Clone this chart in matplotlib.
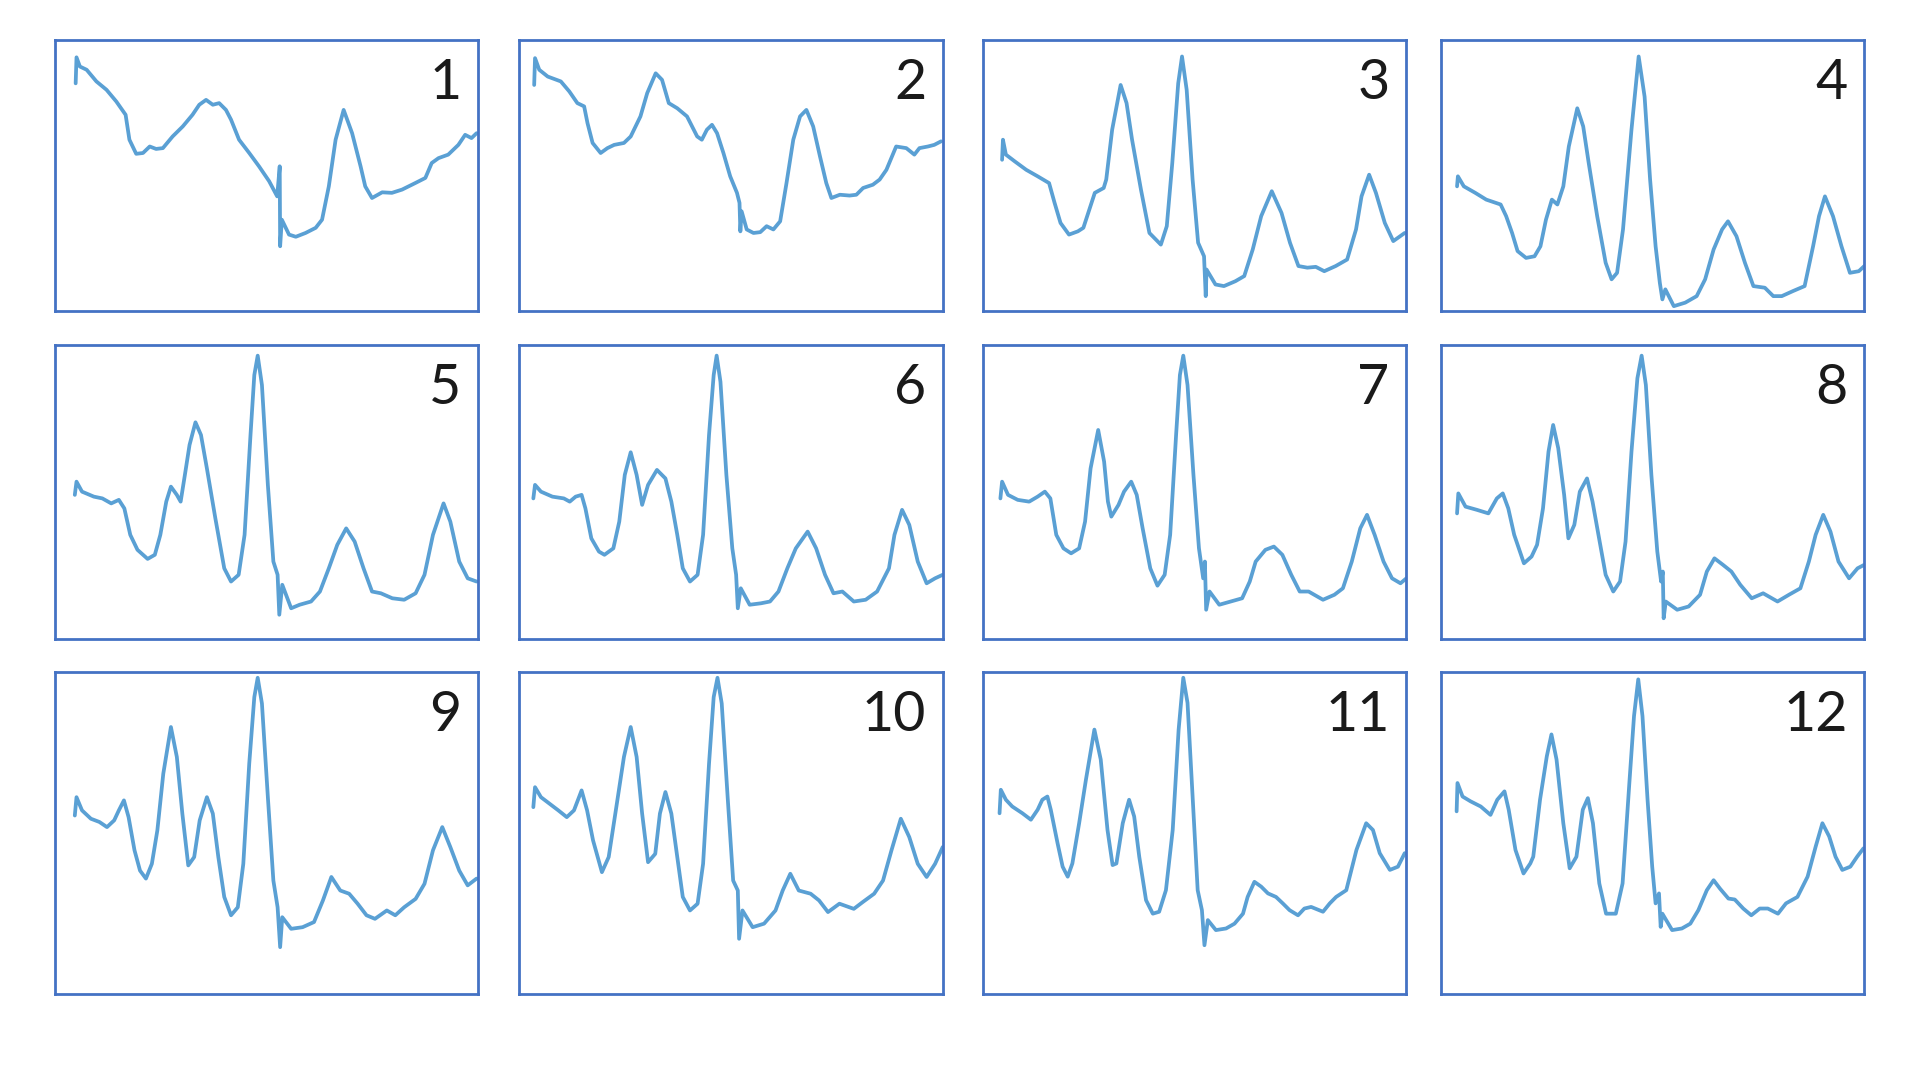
import matplotlib.pyplot as plt

# spectra (x: channel 0-100, y: intensity 0-100)
x1 = [4.9, 5.1, 5.9, 7.5, 9.8, 12.2, 14.5, 16.7, 17.6, 19.2, 20.8, 22.4, 23.9, 25.5, 27.8, 30.2, 32.5, 34.1, 35.7, 37.3,
      38.8, 40.4, 41.6, 43.5, 45.9, 48.2, 50.6, 52.5, 53.1, 53.2, 53.6, 55.3, 56.9, 59.2, 61.6, 63.1, 64.7, 66.3, 68.2,
      70.2, 72.2, 73.3, 74.9, 77.3, 79.6, 82.0, 85.1, 87.5, 89.0, 90.6, 92.9, 95.3, 96.9, 98.4, 99.6]
y1 = [84.0, 93.6, 90.2, 89.0, 84.7, 81.6, 77.3, 72.4, 63.2, 58.0, 58.3, 60.7, 59.8, 60.1, 64.4, 68.1, 72.4, 76.1, 77.9, 76.1,
      76.7, 74.2, 70.6, 63.2, 58.3, 53.4, 47.9, 42.3, 53.4, 23.9, 33.7, 28.2, 27.4, 28.8, 30.7, 33.7, 46.0, 63.2, 74.2,
      65.6, 53.4, 46.0, 41.7, 43.8, 43.6, 44.8, 47.2, 49.1, 54.6, 56.4, 57.7, 61.3, 65.0, 63.8, 65.6]

x2 = [3.5, 3.7, 4.7, 6.7, 9.8, 11.8, 13.7, 15.3, 16.1, 17.3, 19.2, 20.8, 22.4, 24.7, 26.3, 28.6, 30.2, 32.2, 33.7, 35.3,
      37.3, 39.6, 42.0, 43.1, 44.3, 45.5, 46.7, 48.2, 49.8, 51.4, 52.0, 52.2, 52.5, 53.7, 55.3, 56.9, 58.4, 60.0, 61.6,
      63.1, 64.7, 66.3, 67.8, 69.4, 71.0, 72.5, 73.7, 75.7, 78.0, 79.6, 81.2, 83.5, 85.1, 86.7, 89.0, 91.4, 93.3, 94.5,
      96.5, 98.0, 99.6]
y2 = [83.4, 93.3, 89.0, 86.5, 84.7, 81.0, 76.7, 75.5, 69.3, 62.0, 58.3, 60.1, 61.3, 62.0, 64.4, 71.8, 80.4, 87.7, 85.3, 76.7,
      74.8, 71.8, 64.4, 63.2, 66.9, 68.7, 65.6, 58.3, 49.7, 43.6, 39.9, 29.4, 36.8, 30.1, 28.8, 29.1, 31.3, 30.1, 33.1,
      47.2, 63.2, 71.8, 74.2, 68.1, 57.1, 47.2, 41.7, 42.9, 42.6, 42.9, 45.4, 46.6, 48.5, 52.1, 60.7, 60.1, 57.7, 60.1,
      60.7, 61.3, 62.6]

x3 = [4.5, 4.7, 5.4, 7.5, 10.2, 12.9, 15.6, 16.9, 18.3, 20.3, 22.4, 23.7, 25.1, 26.4, 28.5, 29.1, 30.5, 32.5, 33.9, 35.2,
      37.3, 39.3, 42.0, 43.4, 44.7, 46.1, 47.0, 48.1, 49.5, 50.8, 52.2, 52.6, 52.8, 54.9, 56.9, 59.6, 61.7, 63.7, 65.7,
      68.2, 70.5, 72.5, 74.5, 76.6, 78.6, 80.6, 83.3, 86.0, 88.1, 89.4, 91.2, 92.8, 94.9, 96.9, 99.6]
y3 = [55.8, 63.2, 57.7, 55.2, 52.1, 49.7, 47.2, 39.9, 32.5, 28.2, 29.4, 30.7, 37.4, 43.6, 45.4, 48.5, 66.9, 83.4, 76.7, 63.2,
      44.8, 28.8, 24.5, 31.3, 54.6, 84.0, 93.9, 81.6, 48.5, 25.2, 20.2, 5.5, 15.3, 9.8, 9.2, 11.0, 12.9, 22.7, 35.0,
      44.2, 36.2, 25.2, 16.6, 16.0, 16.3, 14.7, 16.6, 19.0, 30.1, 42.3, 50.3, 43.6, 32.5, 25.8, 28.8]

x4 = [3.8, 4.0, 5.4, 8.1, 10.7, 14.1, 15.4, 16.8, 18.1, 20.1, 22.1, 23.5, 24.8, 26.2, 27.5, 28.9, 30.2, 32.2, 33.6, 34.9,
      36.9, 38.9, 40.3, 41.6, 43.0, 45.0, 46.7, 48.1, 49.4, 50.7, 51.7, 52.3, 53.0, 55.0, 57.7, 60.4, 62.4, 64.4, 66.4,
      67.8, 69.8, 71.8, 73.8, 76.5, 78.5, 80.5, 83.2, 85.9, 87.9, 89.3, 90.7, 92.6, 94.6, 96.6, 98.7, 100.0]
y4 = [46.0, 49.7, 46.0, 43.6, 41.1, 39.3, 35.0, 28.8, 22.1, 19.6, 20.2, 23.9, 33.7, 41.1, 39.3, 46.0, 60.7, 74.8, 68.1, 54.6,
      35.0, 17.8, 11.7, 14.1, 30.1, 66.9, 93.9, 79.1, 48.5, 23.9, 10.4, 4.3, 8.0, 1.8, 3.1, 5.5, 11.7, 22.7, 30.1,
      33.1, 27.6, 17.8, 9.2, 8.6, 5.5, 5.5, 7.4, 9.2, 23.9, 35.0, 42.3, 35.0, 23.9, 14.1, 14.7, 16.6]

x5 = [4.7, 5.1, 6.4, 9.2, 11.2, 13.3, 15.1, 16.4, 17.8, 19.5, 21.9, 23.6, 24.9, 26.3, 27.4, 28.8, 29.7, 30.7, 31.8, 33.2,
      34.5, 35.9, 37.9, 40.0, 41.6, 43.4, 44.8, 46.2, 47.1, 47.9, 48.9, 50.3, 51.6, 52.6, 53.0, 53.7, 55.8, 57.8, 60.5,
      62.6, 64.7, 66.7, 68.8, 70.8, 72.9, 74.9, 77.0, 79.7, 82.5, 85.2, 87.3, 89.3, 91.8, 93.4, 95.5, 97.5, 99.6]
y5 = [49.0, 53.5, 50.1, 48.4, 47.8, 46.1, 47.3, 44.4, 35.4, 30.3, 27.2, 28.6, 35.4, 46.7, 51.8, 49.0, 46.7, 55.8, 66.0, 73.7,
      69.4, 58.0, 41.0, 24.0, 19.5, 21.8, 35.4, 69.4, 89.8, 96.4, 86.4, 52.4, 26.3, 21.8, 8.2, 18.4, 10.4, 11.6, 12.7,
      16.1, 24.0, 32.0, 37.6, 33.1, 24.0, 16.1, 15.5, 13.8, 13.3, 15.5, 21.8, 35.4, 46.1, 39.9, 26.3, 20.6, 19.5]

x6 = [3.3, 3.7, 5.1, 7.8, 10.5, 11.9, 13.3, 14.7, 15.6, 17.0, 18.8, 20.1, 22.2, 23.6, 24.9, 26.3, 27.7, 29.0, 30.4, 32.5,
      34.5, 35.9, 37.3, 38.6, 40.3, 42.1, 43.4, 44.8, 45.9, 46.6, 47.5, 48.9, 50.3, 51.2, 51.6, 52.3, 54.4, 57.1, 59.2,
      61.2, 63.3, 65.3, 68.1, 70.1, 72.2, 74.2, 76.3, 79.0, 81.8, 84.5, 87.3, 88.6, 90.4, 92.1, 94.1, 96.2, 98.2, 100.0]
y6 = [47.8, 52.4, 50.1, 48.4, 47.8, 46.7, 48.4, 49.0, 44.4, 34.2, 29.7, 28.6, 30.8, 39.9, 55.8, 63.5, 55.8, 45.6, 52.4, 57.5,
      54.6, 46.7, 35.4, 24.0, 19.5, 21.8, 35.4, 69.4, 89.8, 96.4, 87.5, 55.8, 30.8, 21.8, 10.4, 17.2, 11.6, 12.1, 12.7,
      16.1, 24.0, 30.8, 36.5, 30.8, 21.8, 15.5, 16.1, 12.7, 13.3, 16.1, 24.0, 35.4, 43.9, 38.8, 26.3, 18.9, 20.6, 21.8]

x7 = [4.1, 4.5, 5.9, 8.2, 10.9, 12.9, 14.6, 15.9, 17.3, 19.0, 20.8, 22.7, 24.1, 25.4, 27.2, 28.6, 29.5, 30.3, 32.0, 33.3,
      35.0, 36.3, 37.7, 39.5, 41.2, 42.9, 44.2, 45.6, 46.5, 47.3, 48.3, 49.7, 51.0, 52.0, 52.4, 52.7, 53.5, 55.8, 58.5,
      61.2, 63.0, 64.4, 66.7, 68.7, 70.7, 72.8, 74.8, 76.9, 80.3, 83.0, 85.0, 87.1, 89.1, 90.7, 92.5, 94.6, 96.6, 98.6,
      100.0]
y7 = [47.8, 53.5, 49.0, 47.3, 46.7, 48.4, 50.1, 47.8, 35.4, 30.8, 29.1, 30.8, 39.9, 58.0, 71.1, 60.3, 46.7, 41.6, 45.6, 50.1,
      53.5, 49.0, 37.6, 24.0, 18.1, 21.8, 35.4, 69.4, 89.8, 96.4, 86.4, 55.8, 30.8, 20.6, 26.3, 9.9, 16.1, 11.6, 12.7,
      13.8, 19.5, 26.3, 30.3, 31.4, 28.6, 21.8, 16.1, 16.1, 13.3, 15.0, 17.2, 26.3, 37.6, 42.2, 35.4, 26.3, 20.6, 18.9,
      20.6]

x8 = [3.8, 4.1, 5.8, 8.5, 11.2, 13.2, 14.6, 15.9, 17.3, 19.6, 21.4, 22.7, 24.1, 25.4, 26.5, 27.7, 29.1, 30.1, 31.5, 32.8,
      34.5, 35.8, 37.2, 38.9, 40.7, 42.3, 43.6, 45.0, 46.4, 47.4, 48.4, 49.7, 51.1, 52.0, 52.4, 52.6, 53.1, 55.8, 58.5,
      61.2, 62.8, 64.6, 66.6, 68.6, 70.7, 73.4, 76.1, 79.5, 82.2, 84.9, 86.9, 88.5, 90.3, 92.0, 93.9, 96.4, 98.4, 100.0]
y8 = [42.7, 49.5, 45.0, 43.9, 42.7, 47.8, 49.5, 44.4, 35.4, 25.7, 28.0, 32.0, 44.4, 63.7, 72.8, 64.9, 49.0, 34.2, 38.8, 50.1,
      54.6, 46.7, 35.4, 21.8, 16.1, 19.5, 33.1, 63.7, 88.7, 96.4, 86.4, 55.8, 29.7, 19.5, 22.9, 7.0, 12.7, 9.9, 11.0,
      15.0, 22.9, 27.4, 25.2, 22.9, 18.4, 13.8, 15.5, 12.7, 15.0, 17.2, 26.3, 35.4, 42.2, 36.5, 26.3, 20.6, 24.0, 25.2]

x9 = [4.7, 5.1, 6.4, 8.5, 10.5, 12.3, 14.0, 15.1, 16.3, 17.4, 18.8, 20.1, 21.5, 22.9, 24.2, 25.6, 27.4, 28.8, 30.1, 31.5,
      32.9, 34.2, 35.9, 37.3, 38.6, 40.0, 41.6, 43.2, 44.5, 45.9, 47.1, 47.9, 48.9, 50.3, 51.6, 52.6, 53.2, 53.7, 55.8,
      58.5, 61.2, 63.3, 65.3, 67.4, 69.5, 71.5, 73.6, 75.6, 78.4, 80.4, 82.5, 85.2, 87.3, 89.3, 91.5, 93.4, 95.5, 97.5,
      99.6]
y9 = [55.4, 61.1, 57.0, 54.4, 53.4, 51.8, 53.9, 57.0, 60.1, 54.9, 44.6, 38.3, 35.8, 40.4, 50.8, 68.4, 82.9, 73.6, 56.0, 39.9,
      42.5, 53.9, 61.1, 56.0, 42.5, 30.1, 24.4, 26.9, 40.4, 71.5, 92.2, 98.2, 90.2, 61.1, 35.2, 26.9, 14.5, 23.8, 20.2,
      20.7, 22.3, 29.0, 36.3, 32.1, 31.1, 28.0, 24.4, 23.3, 25.9, 24.4, 26.9, 29.5, 34.2, 44.6, 51.8, 45.6, 38.3, 33.7,
      35.8]

x10 = [3.3, 3.7, 5.1, 7.1, 9.2, 11.2, 12.9, 14.7, 16.0, 17.4, 19.5, 21.1, 22.9, 24.7, 26.3, 27.7, 29.0, 30.4, 32.1, 33.2,
       34.5, 35.9, 37.3, 38.6, 40.3, 42.1, 43.4, 44.8, 45.9, 46.8, 47.8, 49.2, 50.5, 51.6, 51.9, 52.7, 55.1, 57.8, 60.5,
       62.2, 64.0, 66.0, 68.8, 70.8, 72.9, 75.6, 79.0, 81.1, 83.8, 85.9, 87.9, 90.1, 92.1, 94.1, 96.2, 98.2, 100.0]
y10 = [58.0, 64.2, 61.1, 59.1, 57.0, 54.9, 57.0, 63.2, 57.0, 47.7, 37.8, 42.5, 58.0, 73.6, 82.9, 73.6, 56.0, 40.9, 43.5, 56.0,
       62.7, 56.0, 42.5, 30.1, 25.9, 28.0, 40.4, 71.5, 92.2, 98.2, 90.2, 61.1, 35.2, 32.1, 17.1, 25.9, 20.7, 21.8, 25.9,
       32.1, 37.3, 32.1, 31.1, 29.0, 25.4, 28.0, 26.4, 28.5, 31.1, 35.2, 44.6, 54.4, 48.7, 40.4, 36.3, 40.4, 45.6]

x11 = [3.9, 4.2, 5.4, 6.9, 9.3, 11.3, 12.9, 14.0, 15.2, 16.0, 17.6, 18.8, 20.0, 21.1, 22.7, 24.3, 26.3, 27.8, 29.4, 30.6,
       31.5, 33.0, 34.5, 35.7, 36.9, 38.5, 40.1, 41.6, 43.2, 44.8, 46.2, 47.3, 48.3, 49.5, 50.7, 51.7, 52.3, 53.1, 55.0,
       57.4, 59.4, 61.4, 62.5, 64.1, 65.7, 67.3, 69.2, 70.8, 72.4, 74.4, 75.9, 77.5, 80.3, 81.9, 83.4, 85.8, 88.2, 90.5,
       92.1, 93.7, 96.1, 98.0, 99.6]
y11 = [56.1, 63.4, 60.3, 58.2, 56.1, 54.1, 57.2, 60.3, 61.3, 57.2, 46.8, 39.5, 36.4, 40.5, 53.0, 66.5, 82.1, 72.8, 50.9, 40.0,
       40.5, 53.0, 60.3, 55.1, 42.6, 29.1, 24.9, 25.5, 32.2, 50.9, 82.1, 98.2, 90.4, 61.3, 32.2, 26.0, 15.1, 22.9, 19.8,
       20.3, 21.8, 24.9, 30.1, 34.8, 33.3, 31.2, 30.1, 28.1, 26.0, 24.4, 26.5, 27.0, 25.5, 28.1, 30.1, 32.2, 44.7, 53.0,
       50.9, 43.7, 38.5, 39.5, 43.7]

x12 = [3.7, 3.9, 5.1, 7.0, 9.4, 11.7, 13.3, 15.0, 16.0, 17.6, 19.5, 21.1, 21.8, 23.4, 25.0, 26.1, 27.3, 28.9, 30.4, 32.0,
       33.5, 34.7, 35.9, 37.4, 39.0, 41.3, 42.9, 44.5, 45.6, 46.6, 47.6, 48.8, 49.9, 50.7, 51.5, 51.9, 52.3, 54.6, 56.9,
       58.9, 60.8, 62.8, 64.4, 65.9, 67.9, 69.4, 71.4, 73.3, 75.3, 77.2, 79.6, 81.5, 84.2, 86.6, 88.5, 90.1, 91.7, 93.2,
       94.8, 96.7, 98.3, 99.8]
y12 = [56.7, 65.5, 61.3, 59.8, 58.2, 55.6, 60.3, 62.9, 57.2, 44.7, 37.4, 40.5, 42.6, 60.3, 73.8, 80.6, 72.8, 53.0, 39.0, 42.6,
       57.2, 60.8, 53.0, 34.3, 24.9, 24.9, 34.3, 65.5, 86.3, 97.7, 86.3, 60.3, 39.5, 28.1, 31.2, 20.8, 24.9, 19.8, 20.3,
       21.8, 26.0, 32.2, 35.3, 32.7, 29.6, 29.3, 26.5, 24.4, 26.5, 26.5, 24.9, 28.1, 30.1, 36.4, 45.7, 53.0, 48.9, 42.6,
       38.5, 39.5, 42.6, 45.2]

xs = [x1, x2, x3, x4, x5, x6, x7, x8, x9, x10, x11, x12]
ys = [y1, y2, y3, y4, y5, y6, y7, y8, y9, y10, y11, y12]
labels = ['1', '2', '3', '4', '5', '6', '7', '8', '9', '10', '11', '12']

# panel grid (figure fractions)
col_left = [0.0286, 0.2705, 0.5120, 0.7505]
col_width = 0.2205
row_bottom = [0.7120, 0.4085, 0.0798]
row_height = [0.2510, 0.2720, 0.2980]

fig = plt.figure(figsize=(19.2, 10.8), dpi=100)

for i in range(12):
    r, c = divmod(i, 4)
    ax = fig.add_axes([col_left[c], row_bottom[r], col_width, row_height[r]])
    ax.plot(xs[i], ys[i], color='#5aa0d4', linewidth=2.7,
            solid_joinstyle='round', solid_capstyle='round')
    ax.set_xlim(0, 100)
    ax.set_ylim(0, 100)
    ax.set_xticks([])
    ax.set_yticks([])
    for s in ax.spines.values():
        s.set_color('#4472c4')
        s.set_linewidth(2.0)
    ax.annotate(labels[i], xy=(1, 1), xycoords='axes fraction',
                xytext=(-12, -13), textcoords='offset points',
                ha='right', va='top', fontsize=40, family='Lato', color='#1a1a1a')

fig.savefig('out.png', dpi=100, facecolor='white')
